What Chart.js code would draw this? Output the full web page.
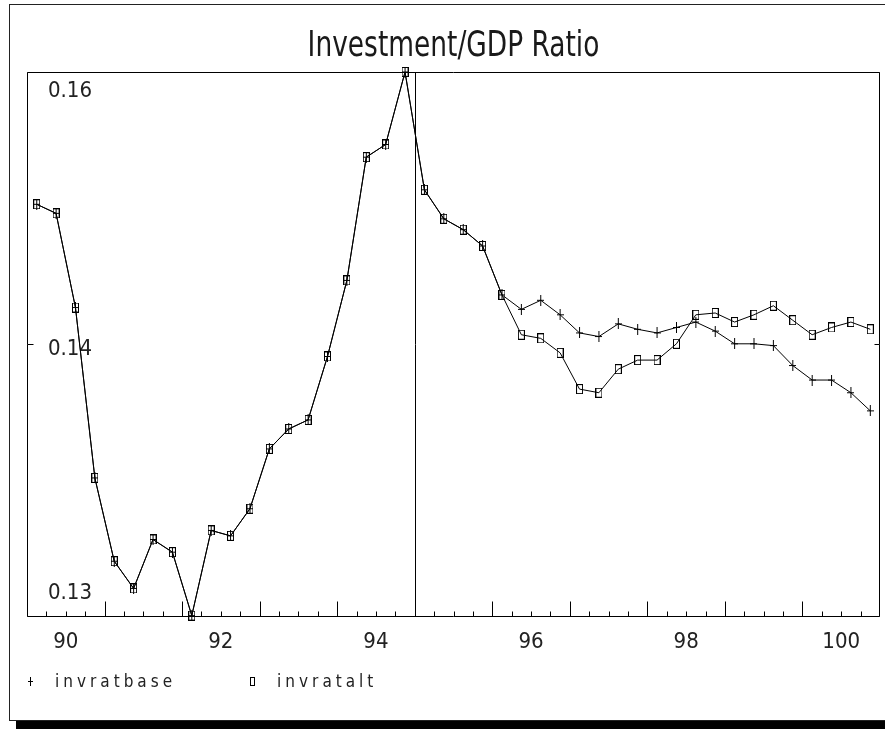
<!DOCTYPE html>
<html>
<head>
<meta charset="utf-8">
<title>Investment/GDP Ratio</title>
<script src="https://cdn.jsdelivr.net/npm/chart.js@4/dist/chart.umd.min.js"></script>
<style>
  html, body { margin: 0; padding: 0; background: #fff; }
  #wrap { width: 885px; height: 729px; }
</style>
</head>
<body>
<div id="wrap"><canvas id="chart" width="885" height="729"></canvas></div>
<script>
// Quarterly series, 1990Q1 .. 2000Q4
const startYear = 1990;
const endYear = 2001;
const forecastStart = 1995;

const chartTitle = 'Investment/GDP Ratio';
const seriesNames = ['invratbase', 'invratalt'];

const invratbase = [
  0.1497, 0.1492, 0.1440, 0.1346, 0.1300, 0.1285, 0.1312, 0.1305,
  0.1270, 0.1317, 0.1314, 0.1329, 0.1362, 0.1373, 0.1378, 0.1413,
  0.1455, 0.1523, 0.1530, 0.1570, 0.1505, 0.1489, 0.1483, 0.1474,
  0.1447, 0.1439, 0.1444, 0.1436, 0.1426, 0.1424, 0.1431, 0.1428,
  0.1426, 0.1429, 0.1432, 0.1427, 0.1420, 0.1420, 0.1419, 0.1408,
  0.1400, 0.1400, 0.1393, 0.1383
];

const invratalt = [
  0.1497, 0.1492, 0.1440, 0.1346, 0.1300, 0.1285, 0.1312, 0.1305,
  0.1270, 0.1317, 0.1314, 0.1329, 0.1362, 0.1373, 0.1378, 0.1413,
  0.1455, 0.1523, 0.1530, 0.1570, 0.1505, 0.1489, 0.1483, 0.1474,
  0.1447, 0.1425, 0.1423, 0.1415, 0.1395, 0.1393, 0.1406, 0.1411,
  0.1411, 0.1420, 0.1436, 0.1437, 0.1432, 0.1436, 0.1441, 0.1433,
  0.1425, 0.1429, 0.1432, 0.1428
];

// Axis range and labels
const yMin = 0.127;
const yMax = 0.157;
const yTickValues = [0.127, 0.142, 0.157];
const yTickLabels = ['0.13', '0.14', '0.16'];
const xTickValues = [1990.5, 1992.5, 1994.5, 1996.5, 1998.5, 2000.5];
const xTickLabels = ['90', '92', '94', '96', '98', '100'];

// each observation sits in the middle of its quarter
const quarterPos = (i) => startYear + (i + 0.5) / 4;
const toPoints = (arr) => arr.map((v, i) => ({ x: quarterPos(i), y: v }));

const TICK_FONT = "'DejaVu Sans Condensed', 'DejaVu Sans', sans-serif";

// small marker glyphs
function boxMarker(w, h) {
  const c = document.createElement('canvas');
  c.width = w; c.height = h;
  const g = c.getContext('2d');
  g.strokeStyle = '#000';
  g.lineWidth = 1;
  g.strokeRect(0.5, 0.5, w - 1, h - 1);
  return c;
}
function plusMarker(w, h) {
  const c = document.createElement('canvas');
  c.width = w; c.height = h;
  const g = c.getContext('2d');
  g.strokeStyle = '#000';
  g.lineWidth = 1;
  const cx = Math.floor(w / 2) + 0.5, cy = Math.floor(h / 2) + 0.5;
  g.beginPath();
  g.moveTo(cx, 0); g.lineTo(cx, h);
  g.moveTo(0, cy); g.lineTo(w, cy);
  g.stroke();
  return c;
}

const markers = {
  invratbase: { point: plusMarker(7, 11), legend: plusMarker(5, 9) },
  invratalt:  { point: boxMarker(7, 10),  legend: boxMarker(5, 9) }
};

const crisp = (v) => Math.round(v) + 0.5;

// frame, drop shadow, title, inward tick marks, forecast divider and legend
const decorations = {
  id: 'decorations',
  beforeDraw(chart) {
    const { ctx, width, height, chartArea: a } = chart;
    ctx.save();
    ctx.fillStyle = '#fff';
    ctx.fillRect(0, 0, width, height);
    ctx.fillStyle = '#000';
    ctx.fillRect(16, 721, width - 16, height - 721);
    ctx.strokeStyle = '#222';
    ctx.lineWidth = 1;
    ctx.strokeRect(9.5, 4.5, width + 10, 716);
    // title, narrow lettering centred over the plot
    const cx = (a.left + a.right) / 2;
    ctx.translate(cx, 56);
    ctx.scale(0.84, 1);
    ctx.fillStyle = '#1a1a1a';
    ctx.font = "35px " + TICK_FONT;
    ctx.textAlign = 'center';
    ctx.textBaseline = 'alphabetic';
    ctx.fillText(chartTitle, 0, 0);
    ctx.restore();
  },
  afterDatasetsDraw(chart) {
    const { ctx, chartArea: a, scales: { x, y } } = chart;
    const L = crisp(a.left), R = crisp(a.right - 1), T = crisp(a.top), B = crisp(a.bottom);
    ctx.save();
    ctx.strokeStyle = '#000';
    ctx.lineWidth = 1;
    ctx.beginPath();
    ctx.rect(L, T, R - L, B - T);
    // quarter and year ticks along the bottom
    const nQ = (endYear - startYear) * 4;
    for (let q = 1; q < nQ; q++) {
      const X = crisp(x.getPixelForValue(startYear + q / 4));
      const len = q % 4 === 0 ? 15 : 5;
      ctx.moveTo(X, B);
      ctx.lineTo(X, B - len);
    }
    // value ticks on both sides
    yTickValues.forEach((v) => {
      const Y = crisp(y.getPixelForValue(v));
      ctx.moveTo(L, Y); ctx.lineTo(L + 6, Y);
      ctx.moveTo(R, Y); ctx.lineTo(R - 5, Y);
    });
    // start of the forecast period
    const XF = crisp(x.getPixelForValue(forecastStart));
    ctx.moveTo(XF, T); ctx.lineTo(XF, B);
    ctx.stroke();
    ctx.restore();
  },
  afterDraw(chart) {
    const { ctx } = chart;
    ctx.save();
    ctx.fillStyle = '#222';
    ctx.font = "17px " + TICK_FONT;
    ctx.textBaseline = 'alphabetic';
    if ('letterSpacing' in ctx) ctx.letterSpacing = '4px';
    let cx = 30;
    chart.data.datasets.forEach((ds) => {
      const m = markers[ds.label].legend;
      ctx.drawImage(m, Math.round(cx - m.width / 2), Math.round(681 - m.height / 2));
      const tx = cx + 25;
      ctx.fillText(ds.label, tx, 687);
      cx = tx + ctx.measureText(ds.label).width + 76;
    });
    ctx.restore();
  }
};

new Chart(document.getElementById('chart'), {
  type: 'line',
  data: {
    datasets: [
      {
        label: seriesNames[0],
        data: toPoints(invratbase),
        borderColor: '#000',
        borderWidth: 1,
        tension: 0,
        pointStyle: markers.invratbase.point,
        pointRadius: 3,
        clip: false
      },
      {
        label: seriesNames[1],
        data: toPoints(invratalt),
        borderColor: '#000',
        borderWidth: 1,
        tension: 0,
        pointStyle: markers.invratalt.point,
        pointRadius: 3,
        clip: false
      }
    ]
  },
  plugins: [decorations],
  options: {
    responsive: false,
    animation: false,
    devicePixelRatio: 1,
    events: [],
    layout: { padding: { left: 0, right: 5, top: 72, bottom: 61 } },
    plugins: {
      legend: { display: false },
      tooltip: { enabled: false },
      title: { display: false }
    },
    scales: {
      x: {
        type: 'linear',
        min: startYear,
        max: endYear,
        grid: { display: false, drawTicks: false },
        border: { display: false },
        afterBuildTicks: (s) => { s.ticks = xTickValues.map((v) => ({ value: v })); },
        ticks: {
          autoSkip: false,
          maxRotation: 0,
          padding: 13,
          color: '#222',
          font: { family: TICK_FONT, size: 22, lineHeight: 1.2 },
          callback: (v, i) => xTickLabels[i]
        }
      },
      y: {
        type: 'linear',
        min: yMin,
        max: yMax,
        grid: { display: false, drawTicks: false },
        border: { display: false },
        afterBuildTicks: (s) => { s.ticks = yTickValues.map((v) => ({ value: v })); },
        afterFit: (s) => { s.width = 27; },
        ticks: {
          mirror: true,
          padding: 21,
          color: '#222',
          // end labels are kept inside the frame
          font: (c) => ({
            family: TICK_FONT,
            size: 22,
            lineHeight: [1.03, 0.49, 0.88][c.index] || 1.2
          }),
          callback: (v, i) => {
            if (i === 0) return [yTickLabels[0], '', ''];
            if (i === yTickLabels.length - 1) return ['', '', yTickLabels[i]];
            return ['', yTickLabels[i]];
          }
        }
      }
    }
  }
});
</script>
</body>
</html>
